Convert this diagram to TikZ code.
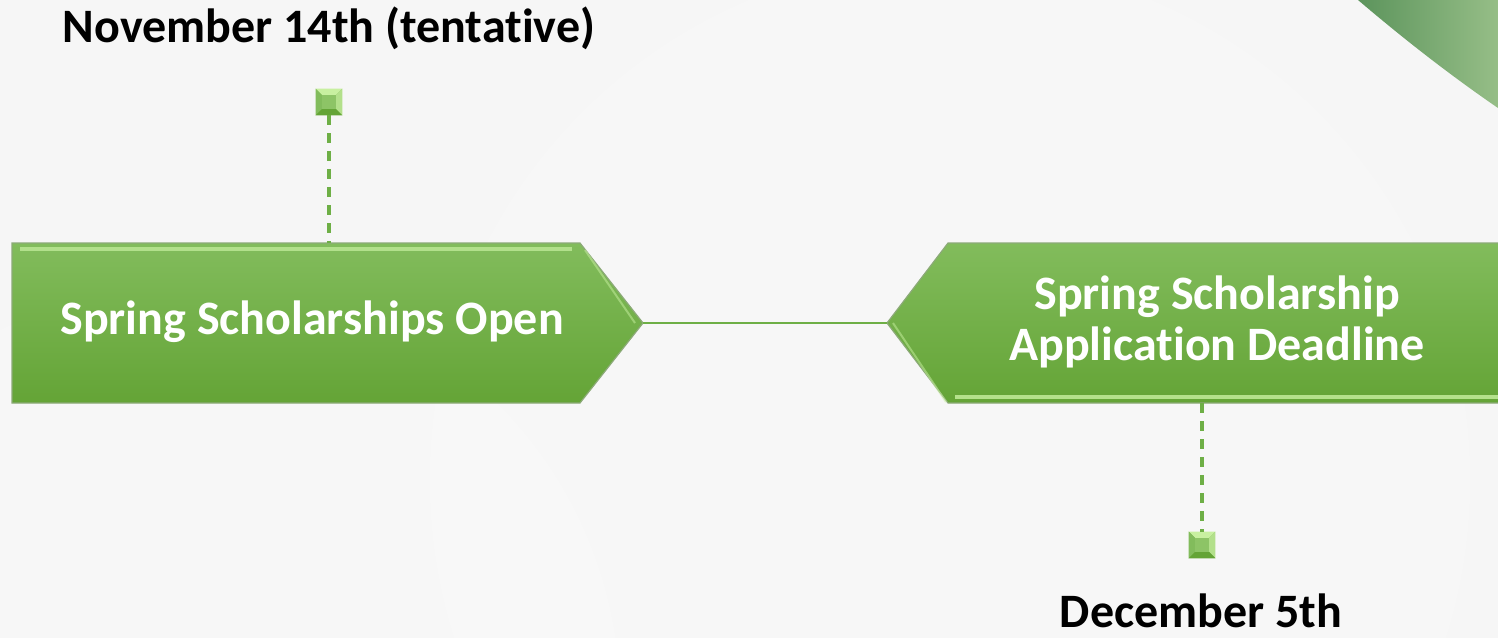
\documentclass[tikz,border=0pt]{standalone}
\usepackage{fontspec}
\setmainfont{Carlito}[RawFeature=-liga]
\usetikzlibrary{calc}
\definecolor{bgc}{RGB}{246,246,246}
\definecolor{gtop}{RGB}{130,188,92}
\definecolor{gbot}{RGB}{100,164,54}
\definecolor{gedge}{RGB}{140,170,120}
\definecolor{ghi}{RGB}{200,240,160}
\definecolor{gline}{RGB}{110,175,70}
\definecolor{leafA}{RGB}{92,148,92}
\definecolor{leafB}{RGB}{150,190,135}
\tikzset{
  stagebox/.style={top color=gtop,bottom color=gbot,draw=gedge,line width=0.6pt},
  stagetext/.style={text=white,font=\bfseries\fontsize{24}{25.5}\selectfont,align=center},
  datetext/.style={text=black,font=\bfseries\fontsize{24}{26}\selectfont},
  dashlink/.style={gline,line width=1.6pt,dash pattern=on 5pt off 4pt},
  marker/.style={draw=none,minimum size=13pt,inner sep=0pt,fill=gbot},
}
\begin{document}
\begin{tikzpicture}[x=0.5pt,y=-0.5pt]
\useasboundingbox (0,0) rectangle (1498,638);
% background
\fill[bgc] (0,0) rectangle (1498,638);
\fill[white,opacity=0.2] (950,480) circle (520);
\fill[white,opacity=0.15] (200,700) circle (420);
% top-right leaf
\shade[left color=leafA,right color=leafB]
  (1358,0) .. controls (1405,40) and (1450,75) .. (1498,108) -- (1498,0) -- cycle;
% connector coordinates
\coordinate (p1) at (643,323);
\coordinate (p2) at (887,323);
\coordinate (t1) at (329,243);
\coordinate (t2) at (1202,403);
% left stage
\path[stagebox] (12,243) -- (580,243) -- (p1) -- (580,403) -- (12,403) -- cycle;
\draw[ghi,line width=1.6pt,opacity=0.7] (20,249) -- (572,249);
\draw[ghi,line width=1pt,opacity=0.5] (585,250) -- (635,323);
% right stage
\path[stagebox] (1500,243) -- (948,243) -- (p2) -- (948,403) -- (1500,403) -- cycle;
\draw[ghi,line width=2pt,opacity=0.8] (955,397) -- (1500,397);
\draw[ghi,line width=1pt,opacity=0.5] (893,323) -- (946,402);
% texts in stages
\node[stagetext] (s1) at (312,322) {Spring Scholarships Open};
\node[stagetext] (s2) at (1217,322) {Spring Scholarship\\Application Deadline};
% connector between stages
\draw[gline,line width=1.3pt] (p1) -- (p2);
% markers
\node[marker] (m1) at (329,102) {};
\node[marker] (m2) at (1202,545) {};
\foreach \m in {m1,m2}{
  \fill[ghi] (\m.north west) -- (\m.north east) -- (\m.center) -- cycle;
  \fill[gtop] (\m.north west) -- (\m.south west) -- (\m.center) -- cycle;
  \fill[ghi!70!gtop] (\m.north east) -- (\m.south east) -- (\m.center) -- cycle;
  \fill[gbot] (\m.south west) -- (\m.south east) -- (\m.center) -- cycle;
  \fill[gtop!85!ghi] ($(\m.center)+(-7,-7)$) rectangle ($(\m.center)+(7,7)$);
}
\draw[dashlink] (m1.south) -- (t1);
\draw[dashlink] (t2) -- (m2.north);
% dates
\node[datetext] (d1) at (329,28) {November 14th (tentative)};
\node[datetext] (d2) at (1201,611) {December 5th};
\end{tikzpicture}
\end{document}
